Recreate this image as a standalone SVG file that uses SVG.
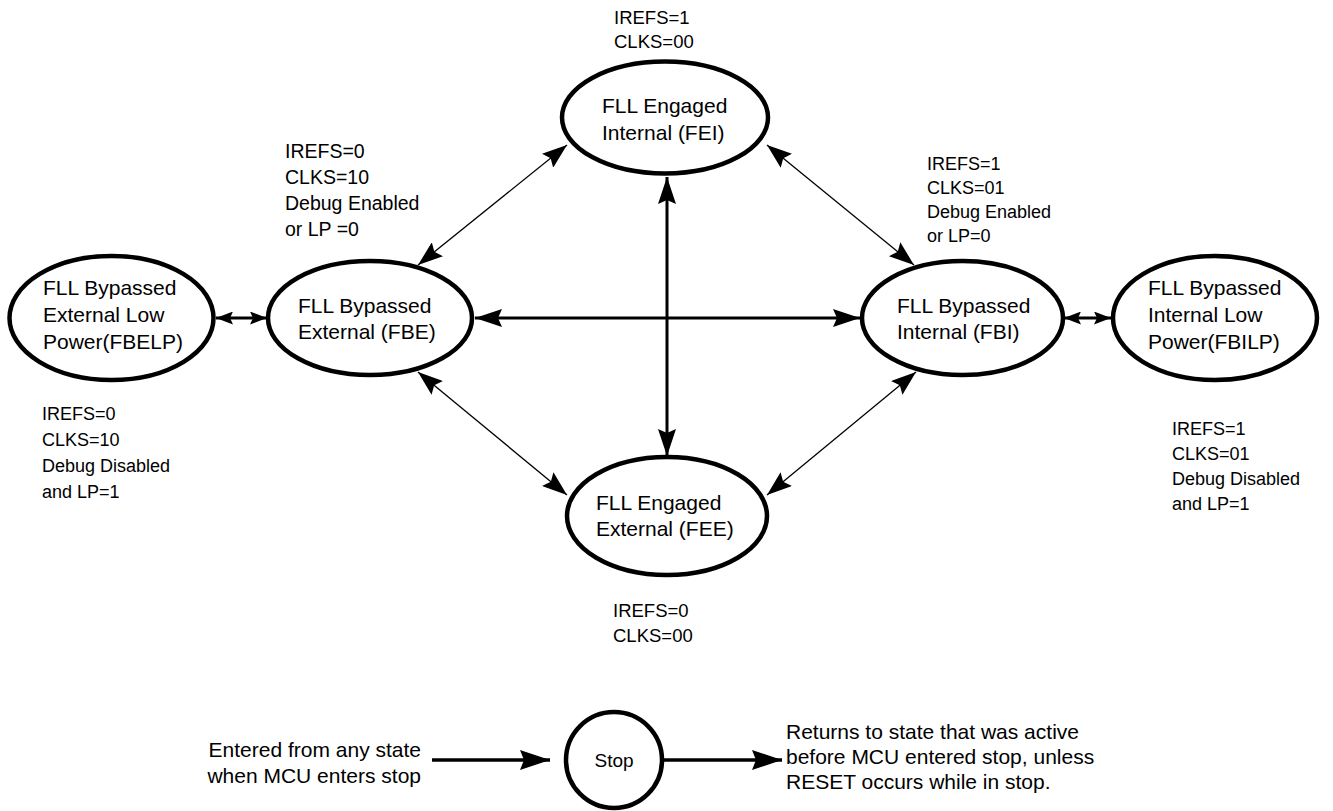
<svg xmlns="http://www.w3.org/2000/svg" width="1333" height="811" viewBox="0 0 1333 811">
<style>
  .node { fill: #fff; stroke: #000; stroke-width: 4.5; }
  .nt { font-family: "Liberation Sans", Arial, sans-serif; font-size: 21px; fill: #000; }
  .lb { font-family: "Liberation Sans", Arial, sans-serif; font-size: 18.5px; fill: #000; }
  .st { font-family: "Liberation Sans", Arial, sans-serif; font-size: 21px; fill: #000; }
  .thin { stroke: #000; stroke-width: 1.3; fill: none; marker-start: url(#ah); marker-end: url(#ah); }
  .thick { stroke: #000; stroke-width: 3; fill: none; marker-start: url(#ahb); marker-end: url(#ahb); }
  .small { stroke: #000; stroke-width: 3; fill: none; marker-start: url(#ahs); marker-end: url(#ahs); }
  .one { stroke: #000; stroke-width: 3.5; fill: none; marker-end: url(#ahl); }
</style>
<defs>
  <marker id="ah" markerUnits="userSpaceOnUse" markerWidth="25" markerHeight="18" refX="25" refY="9" orient="auto-start-reverse" viewBox="0 0 25 18">
    <path d="M0,0 L25,9 L0,18 L4,9 Z" fill="#000"/>
  </marker>
  <marker id="ahb" markerUnits="userSpaceOnUse" markerWidth="27" markerHeight="18" refX="27" refY="9" orient="auto-start-reverse" viewBox="0 0 27 18">
    <path d="M0,0 L27,9 L0,18 L4,9 Z" fill="#000"/>
  </marker>
  <marker id="ahl" markerUnits="userSpaceOnUse" markerWidth="30" markerHeight="20" refX="30" refY="10" orient="auto-start-reverse" viewBox="0 0 30 20">
    <path d="M0,0 L30,10 L0,20 L4,10 Z" fill="#000"/>
  </marker>
  <marker id="ahs" markerUnits="userSpaceOnUse" markerWidth="17" markerHeight="13" refX="17" refY="6.5" orient="auto-start-reverse" viewBox="0 0 17 13">
    <path d="M0,0 L17,6.5 L0,13 L3,6.5 Z" fill="#000"/>
  </marker>
</defs>

<g id="connectors">
  <line class="thick" x1="667" y1="177" x2="667" y2="456"/>
  <line class="thick" x1="475" y1="318" x2="860" y2="318"/>
  <line class="thin" x1="418" y1="265" x2="567" y2="145"/>
  <line class="thin" x1="767" y1="145" x2="914" y2="265"/>
  <line class="thin" x1="418" y1="372" x2="567" y2="495"/>
  <line class="thin" x1="916" y1="372" x2="767" y2="495"/>
  <line class="small" x1="216" y1="318" x2="267" y2="318"/>
  <line class="small" x1="1064" y1="318" x2="1111" y2="318"/>
  <line class="one" x1="432" y1="760" x2="550" y2="760"/>
  <line class="one" x1="664" y1="760" x2="782" y2="760"/>
</g>

<g id="FEI">
  <ellipse class="node" cx="665" cy="117.5" rx="103" ry="56"/>
  <text class="nt" x="602" y="113">FLL Engaged</text>
  <text class="nt" x="602" y="140">Internal (FEI)</text>
</g>
<g id="FBE">
  <ellipse class="node" cx="370" cy="318" rx="102" ry="57"/>
  <text class="nt" x="298" y="313">FLL Bypassed</text>
  <text class="nt" x="298" y="339">External (FBE)</text>
</g>
<g id="FBI">
  <ellipse class="node" cx="962.5" cy="318" rx="100.5" ry="57"/>
  <text class="nt" x="897" y="313">FLL Bypassed</text>
  <text class="nt" x="897" y="339">Internal (FBI)</text>
</g>
<g id="FBELP">
  <ellipse class="node" cx="111.5" cy="318" rx="102" ry="62"/>
  <text class="nt" x="43" y="295">FLL Bypassed</text>
  <text class="nt" x="43" y="322">External Low</text>
  <text class="nt" x="43" y="349">Power(FBELP)</text>
</g>
<g id="FBILP">
  <ellipse class="node" cx="1215" cy="318" rx="102" ry="62"/>
  <text class="nt" x="1148" y="295">FLL Bypassed</text>
  <text class="nt" x="1148" y="322">Internal Low</text>
  <text class="nt" x="1148" y="349">Power(FBILP)</text>
</g>
<g id="FEE">
  <ellipse class="node" cx="667" cy="516" rx="100" ry="59"/>
  <text class="nt" x="596" y="510">FLL Engaged</text>
  <text class="nt" x="596" y="536">External (FEE)</text>
</g>
<g id="Stop">
  <ellipse class="node" cx="614" cy="760" rx="48" ry="48"/>
  <text class="st" x="614" y="767" text-anchor="middle" style="font-size:19px">Stop</text>
</g>

<g id="labels">
  <text class="lb" x="614" y="24">IREFS=1</text>
  <text class="lb" x="614" y="48">CLKS=00</text>

  <text class="lb" x="285" y="158" style="font-size:19.5px">IREFS=0</text>
  <text class="lb" x="285" y="184" style="font-size:19.5px">CLKS=10</text>
  <text class="lb" x="285" y="210" style="font-size:19.5px">Debug Enabled</text>
  <text class="lb" x="285" y="236" style="font-size:19.5px">or LP =0</text>

  <text class="lb" x="927" y="170" style="font-size:18px">IREFS=1</text>
  <text class="lb" x="927" y="194" style="font-size:18px">CLKS=01</text>
  <text class="lb" x="927" y="218" style="font-size:18px">Debug Enabled</text>
  <text class="lb" x="927" y="242" style="font-size:18px">or LP=0</text>

  <text class="lb" x="42" y="420" style="font-size:18px">IREFS=0</text>
  <text class="lb" x="42" y="446" style="font-size:18px">CLKS=10</text>
  <text class="lb" x="42" y="472" style="font-size:18px">Debug Disabled</text>
  <text class="lb" x="42" y="498" style="font-size:18px">and LP=1</text>

  <text class="lb" x="1172" y="435" style="font-size:18px">IREFS=1</text>
  <text class="lb" x="1172" y="460" style="font-size:18px">CLKS=01</text>
  <text class="lb" x="1172" y="485" style="font-size:18px">Debug Disabled</text>
  <text class="lb" x="1172" y="510" style="font-size:18px">and LP=1</text>

  <text class="lb" x="613" y="617">IREFS=0</text>
  <text class="lb" x="613" y="642">CLKS=00</text>

  <text class="st" x="421" y="757" text-anchor="end">Entered from any state</text>
  <text class="st" x="421" y="783" text-anchor="end">when MCU enters stop</text>

  <text class="st" x="786" y="739">Returns to state that was active</text>
  <text class="st" x="786" y="764">before MCU entered stop, unless</text>
  <text class="st" x="786" y="789">RESET occurs while in stop.</text>
</g>
</svg>
